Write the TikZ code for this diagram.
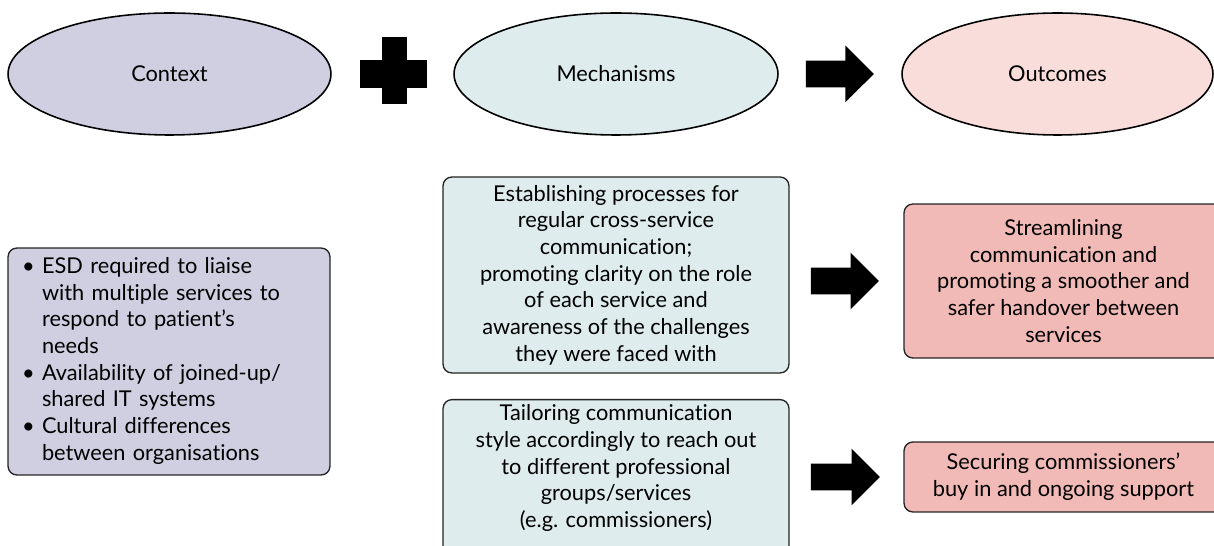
\documentclass[tikz,border=0pt]{standalone}
\usepackage{fontspec}
\setmainfont{Lato}[Ligatures={TeX,NoCommon}]
\usetikzlibrary{positioning,shapes.geometric,shapes.arrows}
\definecolor{ContextFill}{RGB}{208,207,226}
\definecolor{MechFill}{RGB}{222,236,238}
\definecolor{OutcomeLight}{RGB}{249,221,219}
\definecolor{OutcomeFill}{RGB}{242,186,182}
\definecolor{FrameGrey}{RGB}{35,35,35}
\tikzset{
  head/.style={ellipse,draw=black,line width=0.9pt,minimum width=6.46cm,
    minimum height=2.44cm,inner sep=0pt,font=\fontsize{12.4}{15.2}\selectfont},
  box/.style={draw=FrameGrey,line width=0.75pt,rounded corners=5pt,
    align=center,inner sep=0pt,font=\fontsize{12.4}{15.2}\selectfont},
  bigarrow/.style={single arrow,fill=black,inner xsep=0pt,inner ysep=0.26cm,
    single arrow head extend=0.3cm,anchor=tip}
}

\begin{document}
\begin{tikzpicture}[x=0.02cm,y=-0.02cm]
  \useasboundingbox (0,0) rectangle (1214,546);
  \clip (0,0) rectangle (1214,546);
  \node[head,fill=ContextFill] (context) at (169.5,74) {Context};
  \node[head,fill=MechFill,minimum width=6.48cm] (mech) at (616,74) {Mechanisms};
  \node[head,fill=OutcomeLight,minimum width=6.22cm] (outcome) at (1057.5,74) {Outcomes};
  \fill (360,60) rectangle (427,88);
  \fill (382,37) rectangle (407,104);
  \node[bigarrow,minimum height=1.36cm] (mechtoout) at ([xshift=-0.54cm]outcome.west) {};

  \node[box,fill=ContextFill,text width=5.88cm,minimum height=4.54cm,align=left,
    inner xsep=0.28cm] (ctxlist) at (169,361.5) {%
    \begin{tabular}{@{}p{0.4cm}@{}l@{}}
      \textbullet & ESD required to liaise\\
       & with multiple services to\\
       & respond to patient’s\\
       & needs\\
      \textbullet & Availability of joined-up/\\
       & shared IT systems\\
      \textbullet & Cultural differences\\
       & between organisations
    \end{tabular}};
  \node[box,fill=MechFill,minimum width=6.92cm,minimum height=3.92cm] (mechone) at (616,275)
    {Establishing processes for\\regular cross-service\\communication;\\promoting clarity on the role\\of each service and\\awareness of the challenges\\they were faced with};
  \node[box,fill=MechFill,anchor=north,inner sep=0.1cm] (mechtwo) at (616,399) {%
    \begin{minipage}[t][3.3cm][t]{6.72cm}\centering
      Tailoring communication\\style accordingly to reach out\\to different professional\\groups/services\\(e.g. commissioners)
    \end{minipage}};

  \node[box,fill=OutcomeFill,minimum width=6.38cm,minimum height=3.08cm] (outone) at (1063.5,281)
    {Streamlining\\communication and\\promoting a smoother and\\safer handover between\\services};
  \node[box,fill=OutcomeFill,minimum width=6.38cm,minimum height=1.4cm] (outtwo) at (1063.5,477)
    {Securing commissioners’\\buy in and ongoing support};
  \node[bigarrow,minimum height=1.36cm] (onetoone) at ([xshift=-0.48cm]outone.west) {};
  \node[bigarrow,minimum height=1.38cm] (twototwo) at ([xshift=-0.46cm]outtwo.west) {};
\end{tikzpicture}
\end{document}
